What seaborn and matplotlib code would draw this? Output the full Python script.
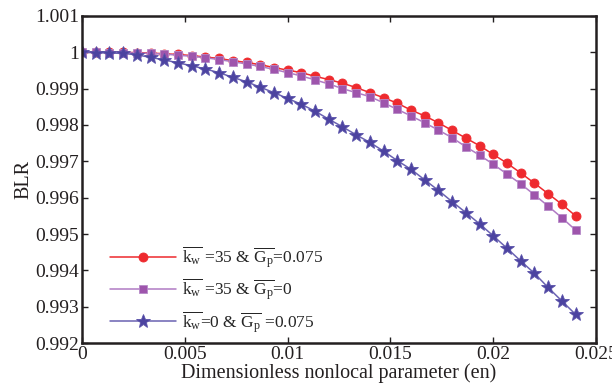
import numpy as np
import pandas as pd
import matplotlib
matplotlib.use("Agg")
import matplotlib.pyplot as plt
import seaborn as sns

# ---- data ----
en = [i * 0.024 / 36 for i in range(37)]

blr_kw35_gp0075 = [1.00000, 1.00000, 1.00000, 1.00000, 0.99999, 0.99998, 0.99996, 0.99994,
                   0.99991, 0.99987, 0.99983, 0.99977, 0.99972, 0.99966, 0.99958, 0.99951,
                   0.99944, 0.99934, 0.99925, 0.99915, 0.99903, 0.99889, 0.99875, 0.99860,
                   0.99841, 0.99825, 0.99806, 0.99785, 0.99764, 0.99743, 0.99719, 0.99695,
                   0.99668, 0.99640, 0.99611, 0.99582, 0.99550]

blr_kw35_gp0 = [1.00000, 1.00000, 0.99999, 0.99999, 0.99998, 0.99997, 0.99995, 0.99992,
                0.99989, 0.99985, 0.99980, 0.99974, 0.99968, 0.99961, 0.99953, 0.99944,
                0.99935, 0.99924, 0.99913, 0.99900, 0.99889, 0.99878, 0.99861, 0.99843,
                0.99825, 0.99806, 0.99786, 0.99765, 0.99740, 0.99717, 0.99692, 0.99665,
                0.99638, 0.99608, 0.99577, 0.99545, 0.99511]

blr_kw0_gp0075 = [1.00000, 0.99999, 0.99998, 0.99997, 0.99993, 0.99986, 0.99979, 0.99971,
                  0.99963, 0.99954, 0.99944, 0.99931, 0.99919, 0.99904, 0.99889, 0.99873,
                  0.99857, 0.99838, 0.99816, 0.99795, 0.99773, 0.99752, 0.99728, 0.99702,
                  0.99678, 0.99649, 0.99620, 0.99589, 0.99559, 0.99528, 0.99495, 0.99461,
                  0.99426, 0.99392, 0.99353, 0.99316, 0.99279]

labels = [
    r"$\overline{\mathrm{k}_\mathrm{w}}$ =35 & $\overline{\mathrm{G}_\mathrm{p}}$=0.075",
    r"$\overline{\mathrm{k}_\mathrm{w}}$ =35 & $\overline{\mathrm{G}_\mathrm{p}}$=0",
    r"$\overline{\mathrm{k}_\mathrm{w}}$=0 & $\overline{\mathrm{G}_\mathrm{p}}$ =0.075",
]
xticks = [0, 0.005, 0.01, 0.015, 0.02, 0.025]
xticklabels = ["0", "0.005", "0.01", "0.015", "0.02", "0.025"]
yticks = [0.992, 0.993, 0.994, 0.995, 0.996, 0.997, 0.998, 0.999, 1.000, 1.001]
yticklabels = ["0.992", "0.993", "0.994", "0.995", "0.996", "0.997", "0.998", "0.999", "1", "1.001"]

sns.set_theme(style="ticks")
plt.rcParams["font.family"] = ["Liberation Serif", "DejaVu Serif"]
plt.rcParams["mathtext.fontset"] = "custom"
plt.rcParams["mathtext.rm"] = "Liberation Serif"
plt.rcParams["mathtext.it"] = "Liberation Serif:italic"

fig = plt.figure(figsize=(6.12, 3.89), dpi=100)
ax = fig.add_axes([0.134, 0.118, 0.840, 0.841])

styles = [
    dict(color="#EE2A2E", marker="o", markersize=6.5, mfc="#EE2A2E", mec="#EE2A2E"),
    dict(color="#B07AC4", marker="s", markersize=5.5, mfc="#9E55AC", mec="#B78AC9"),
    dict(color="#6A62B2", marker="*", markersize=10, mfc="#4C43A0", mec="#5A52AA"),
]
series = [blr_kw35_gp0075, blr_kw35_gp0, blr_kw0_gp0075]

for vals, lab, st in zip(series, labels, styles):
    df = pd.DataFrame({"en": en, "BLR": vals})
    sns.lineplot(data=df, x="en", y="BLR", ax=ax, label=lab, color=st["color"],
                 marker=st["marker"], markersize=st["markersize"],
                 markerfacecolor=st["mfc"], markeredgecolor=st["mec"],
                 markeredgewidth=0.6, linewidth=1.1)

ax.set_xlim(0, 0.025)
ax.set_ylim(0.992, 1.001)
ax.set_xticks(xticks)
ax.set_xticklabels(xticklabels)
ax.set_yticks(yticks)
ax.set_yticklabels(yticklabels)
ax.tick_params(direction="in", top=True, right=True, length=4, width=1.0,
               labelsize=14, colors="#231F20", pad=2)
for s in ax.spines.values():
    s.set_linewidth(1.8)
    s.set_color("#231F20")

ax.set_xlabel("Dimensionless nonlocal parameter (en)", fontsize=14.5, color="#231F20", labelpad=0)
ax.set_ylabel("BLR", fontsize=14.5, color="#231F20", labelpad=1)

leg = ax.legend(loc="lower left", bbox_to_anchor=(0.025, -0.022), frameon=False,
                fontsize=12.5, handlelength=3.8, labelspacing=0.4, handletextpad=0.3)

fig.savefig("out.png", dpi=100)
